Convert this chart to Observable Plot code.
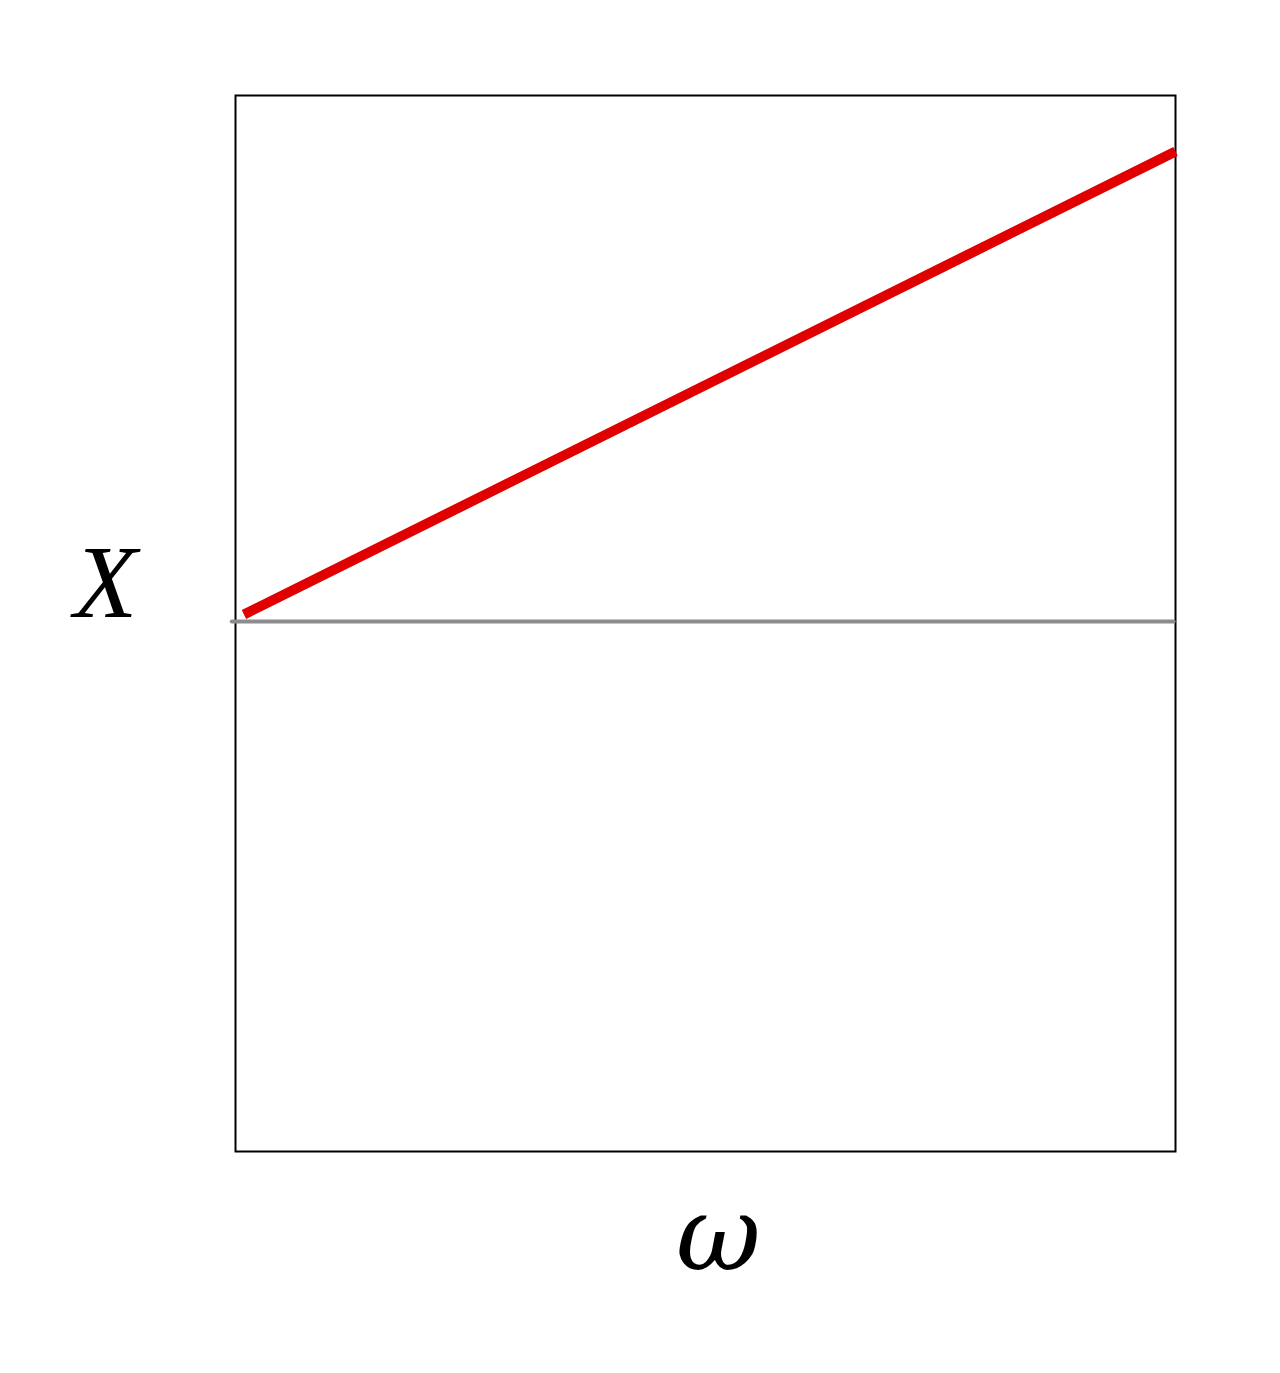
<!DOCTYPE html>
<html>
<head>
<meta charset="utf-8">
<script src="https://cdn.jsdelivr.net/npm/d3@7"></script>
<script src="https://cdn.jsdelivr.net/npm/@observablehq/plot@0.6"></script>
<style>
  html, body { margin: 0; padding: 0; background: #fff; }
</style>
</head>
<body>
<div id="chart"></div>
<script>
// Data
const lineOmega = [0.009, 1.0];
const lineX = [0.017, 0.894];
const baseOmega = [-0.004, 0.998];
const baseX = [0.004, 0.004];
const xLabel = "ω";
const yLabel = "X";

const redLine = lineOmega.map((w, i) => ({w, x: lineX[i]}));
const grayLine = baseOmega.map((w, i) => ({w, x: baseX[i]}));

const chart = Plot.plot({
  width: 1280,
  height: 1373,
  marginLeft: 235,
  marginRight: 105,
  marginTop: 95,
  marginBottom: 222,
  style: {background: "#fff"},
  x: {domain: [0, 1], axis: null},
  y: {domain: [-1, 1], axis: null},
  marks: [
    Plot.frame({stroke: "#000", strokeWidth: 2}),
    Plot.line(grayLine, {x: "w", y: "x", stroke: "#8c8c8c", strokeWidth: 4, clip: false}),
    Plot.line(redLine, {x: "w", y: "x", stroke: "#e00000", strokeWidth: 10, strokeLinecap: "butt"}),
    Plot.text([yLabel], {frameAnchor: "left", dx: -130, dy: -40, text: d => d, textAnchor: "middle",
      fontSize: 104, fontStyle: "italic", fontFamily: "'Liberation Serif', 'Times New Roman', serif", fill: "#000"}),
    Plot.text([xLabel], {frameAnchor: "bottom", dx: 13, dy: 118, text: d => d,
      fontSize: 104, fontStyle: "italic", fontFamily: "'DejaVu Serif', serif", fill: "#000"})
  ]
});
document.getElementById("chart").appendChild(chart);
</script>
</body>
</html>
